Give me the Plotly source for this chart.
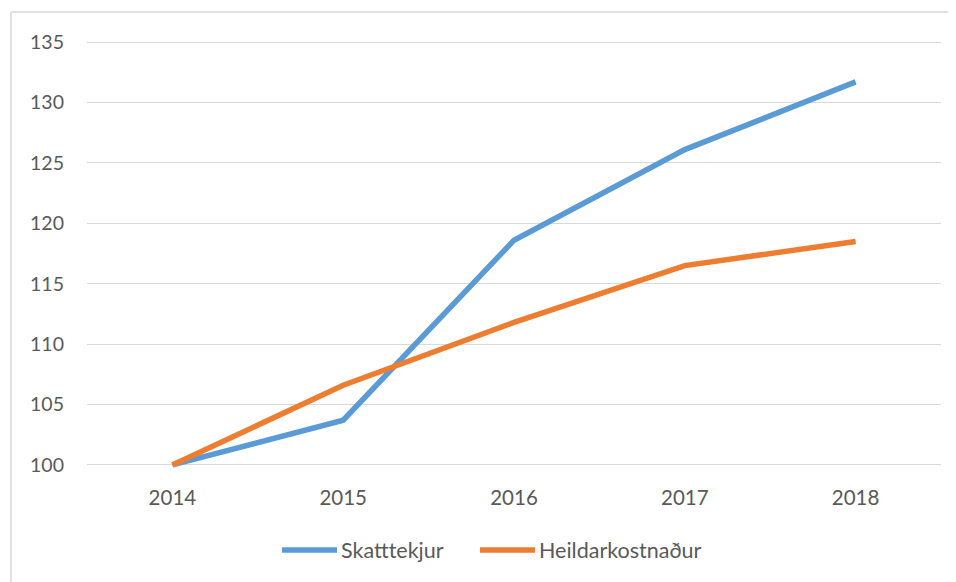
import plotly.graph_objects as go

years = ["2014", "2015", "2016", "2017", "2018"]
skatttekjur = [100, 103.7, 118.6, 126.1, 131.7]
heildarkostnadur = [100, 106.6, 111.8, 116.5, 118.5]
series_names = ["Skatttekjur", "Heildarkostnaður"]
series_colors = ["#5B9BD5", "#ED7D31"]
y_ticks = [100, 105, 110, 115, 120, 125, 130, 135]

OFF = 8  # page body margin offset
W, H = 956, 582
L, R, T, B = 87 - OFF, 15 + OFF, 36 - OFF, 111 + OFF
FONT = "Lato, Carlito, Calibri, sans-serif"
TXT = "#595959"
GRID = "#D9D9D9"

pw = W - L - R
ph = H - T - B


def px_x(x):
    return (x - OFF - L) / pw


def px_y(y):
    return (H - B - (y - OFF)) / ph


fig = go.Figure()
for name, vals, col in zip(series_names, [skatttekjur, heildarkostnadur], series_colors):
    fig.add_trace(go.Scatter(x=years, y=vals, name=name, mode="lines",
                             line=dict(color=col, width=5.5), showlegend=False))

shapes = [
    dict(type="line", xref="paper", yref="paper", x0=px_x(11), x1=px_x(970),
         y0=px_y(12), y1=px_y(12), line=dict(color=GRID, width=1.5)),
    dict(type="line", xref="paper", yref="paper", x0=px_x(11), x1=px_x(11),
         y0=px_y(12), y1=px_y(600), line=dict(color=GRID, width=1.5)),
]
annotations = []
leg_items = [(282, 337, 339), (480, 535, 537)]
for (x0, x1, tx), name, col in zip(leg_items, series_names, series_colors):
    shapes.append(dict(type="line", xref="paper", yref="paper", x0=px_x(x0), x1=px_x(x1),
                       y0=px_y(550), y1=px_y(550), line=dict(color=col, width=5.5)))
    annotations.append(dict(xref="paper", yref="paper", x=px_x(tx), y=px_y(550),
                            text=name, showarrow=False, xanchor="left", yanchor="middle",
                            font=dict(family=FONT, size=21.5, color=TXT)))

fig.update_layout(
    width=W, height=H, autosize=False,
    margin=dict(l=L, r=R, t=T, b=B),
    paper_bgcolor="white", plot_bgcolor="white",
    font=dict(family=FONT, size=19, color=TXT),
    shapes=shapes, annotations=annotations,
    showlegend=False,
    xaxis=dict(type="category", range=[-0.5, 4.5], showgrid=False, zeroline=False,
               showline=False, ticks="", ticklabelstandoff=12,
               tickfont=dict(family=FONT, size=20.5, color=TXT)),
    yaxis=dict(range=[99.5, 135.5], tickvals=y_ticks, showgrid=True, gridcolor=GRID,
               gridwidth=1.3, zeroline=False, showline=False, ticks="",
               ticklabelstandoff=22, tickfont=dict(family=FONT, size=19.5, color=TXT)),
)

fig.write_html("out.html")
